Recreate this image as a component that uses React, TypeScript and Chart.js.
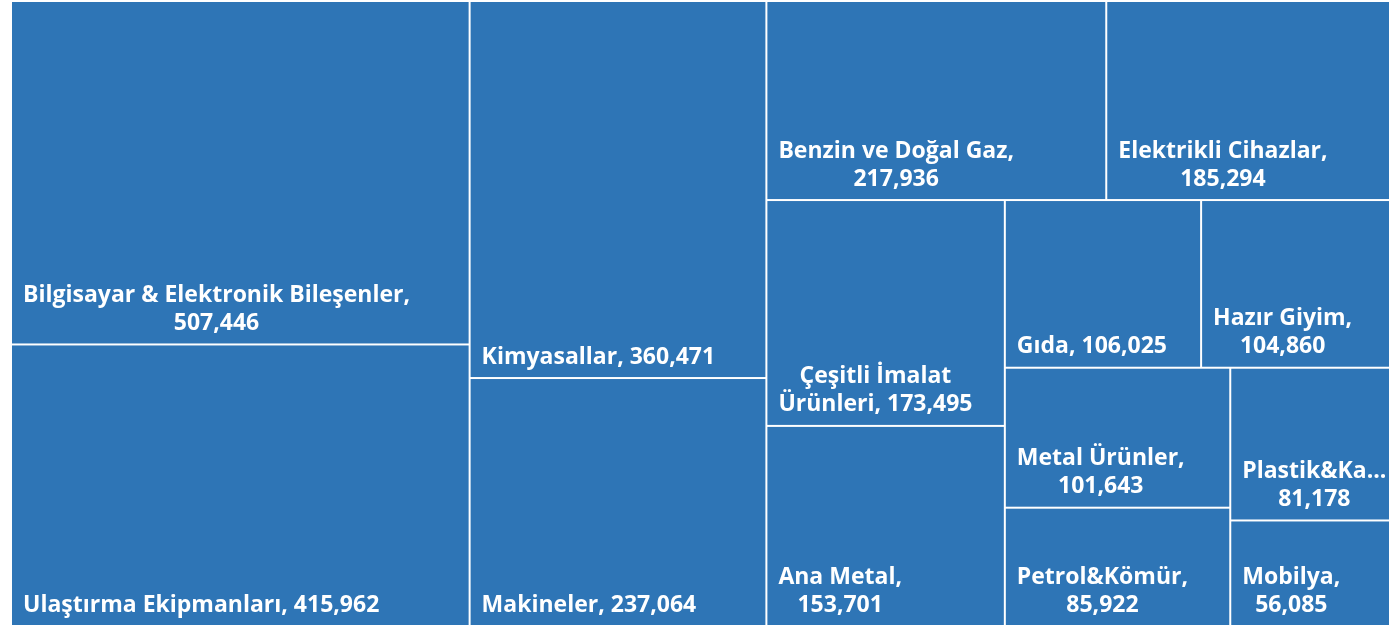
import { useEffect, useRef } from "react";
import { Chart, registerables } from "chart.js";

Chart.register(...registerables);

const categories = [
  "Bilgisayar & Elektronik Bileşenler",
  "Ulaştırma Ekipmanları",
  "Kimyasallar",
  "Makineler",
  "Benzin ve Doğal Gaz",
  "Elektrikli Cihazlar",
  "Çeşitli İmalat Ürünleri",
  "Ana Metal",
  "Gıda",
  "Hazır Giyim",
  "Metal Ürünler",
  "Petrol&Kömür",
  "Plastik&Kauçuk",
  "Mobilya",
];
const values = [
  507446, 415962, 360471, 237064, 217936, 185294, 173495, 153701, 106025, 104860, 101643, 85922, 81178,
  56085,
];

const DATA_W = 100;
const DATA_H = 50;
const X_VISIBLE = 99.55;
const FILL = "#2E75B6";
const FONT = "bold 23px 'Open Sans'";
const LINE_H = 28;
const PAD = 12;

type Rect = { x: number; y: number; w: number; h: number };

function sum(a: number[]) {
  return a.reduce((s, v) => s + v, 0);
}
function worst(row: number[], side: number) {
  const s = sum(row);
  const mx = Math.max(...row);
  const mn = Math.min(...row);
  return Math.max((side * side * mx) / (s * s), (s * s) / (side * side * mn));
}
function squarify(vals: number[], x0: number, y0: number, w0: number, h0: number): Rect[] {
  let x = x0, y = y0, w = w0, h = h0;
  const scale = (w * h) / sum(vals);
  const areas = vals.map((v) => v * scale);
  const rects: Rect[] = [];
  let i = 0;
  while (i < areas.length) {
    const side = Math.min(w, h);
    let row = [areas[i]];
    let j = i + 1;
    while (j < areas.length) {
      const next = [...row, areas[j]];
      if (worst(next, side) <= worst(row, side)) {
        row = next;
        j++;
      } else break;
    }
    const s = sum(row);
    if (w >= h) {
      const cw = s / h;
      let cy = y;
      for (const a of row) {
        const rh = a / cw;
        rects.push({ x, y: cy, w: cw, h: rh });
        cy += rh;
      }
      x += cw;
      w -= cw;
    } else {
      const rh = s / w;
      let cx = x;
      for (const a of row) {
        const rw = a / rh;
        rects.push({ x: cx, y, w: rw, h: rh });
        cx += rw;
      }
      y += rh;
      h -= rh;
    }
    i = j;
  }
  return rects;
}

function wrapText(ctx: CanvasRenderingContext2D, text: string, maxW: number, truncW: number): string[] {
  const words = text.split(" ");
  const lines: string[] = [];
  let cur = "";
  const fit = (word: string) => {
    if (ctx.measureText(word).width <= truncW) return word;
    let t = word;
    while (t.length > 1 && ctx.measureText(t + "...").width > truncW) t = t.slice(0, -1);
    return t + "...";
  };
  for (const w of words) {
    const cand = cur ? cur + " " + w : w;
    if (ctx.measureText(cand).width <= maxW) {
      cur = cand;
    } else {
      if (cur) lines.push(cur);
      cur = fit(w);
    }
  }
  if (cur) lines.push(cur);
  return lines;
}

const treemapPlugin = {
  id: "treemapCells",
  afterDatasetsDraw(chart: any) {
    const ctx: CanvasRenderingContext2D = chart.ctx;
    const xs = chart.scales.x;
    const ys = chart.scales.y;
    const pts = chart.data.datasets[0].data as any[];
    ctx.save();
    pts.forEach((p) => {
      const r: Rect = p.rect;
      const x0 = xs.getPixelForValue(r.x);
      const x1 = xs.getPixelForValue(r.x + r.w);
      const y0 = ys.getPixelForValue(r.y);
      const y1 = ys.getPixelForValue(r.y + r.h);
      ctx.fillStyle = FILL;
      ctx.fillRect(x0 + 1, y0 + 1, x1 - x0 - 2, y1 - y0 - 2);
    });
    ctx.font = FONT;
    ctx.fillStyle = "#ffffff";
    ctx.textAlign = "center";
    ctx.textBaseline = "middle";
    const right = chart.width;
    pts.forEach((p) => {
      const r: Rect = p.rect;
      const x0 = xs.getPixelForValue(r.x);
      const x1 = Math.min(xs.getPixelForValue(r.x + r.w), right);
      const y1 = ys.getPixelForValue(r.y + r.h);
      const label = `${p.name}, ${p.value.toLocaleString("en-US")}`;
      const cw = x1 - x0;
      const lines = wrapText(ctx, label, cw - PAD - 14, cw - PAD);
      const bw = Math.max(...lines.map((l) => ctx.measureText(l).width));
      const cx = x0 + PAD + bw / 2;
      lines.forEach((l, k) => {
        const cy = y1 - 21 - (lines.length - 1 - k) * LINE_H;
        ctx.fillText(l, cx, cy);
      });
    });
    ctx.restore();
  },
};

export default function App() {
  const ref = useRef<HTMLCanvasElement | null>(null);
  useEffect(() => {
    document.body.style.margin = "0";
    const rects = squarify(values, 0, 0, DATA_W, DATA_H);
    const data = rects.map((r, i) => ({
      x: r.x + r.w / 2,
      y: r.y + r.h / 2,
      rect: r,
      name: categories[i],
      value: values[i],
    }));
    const chart = new Chart(ref.current!, {
      type: "scatter",
      data: { datasets: [{ data, pointRadius: 0, pointHoverRadius: 0 } as any] },
      options: {
        animation: false,
        responsive: false,
        events: [],
        layout: { padding: { left: 11, top: 1, right: 0, bottom: 1 } },
        plugins: { legend: { display: false }, tooltip: { enabled: false } },
        scales: {
          x: { type: "linear", min: 0, max: X_VISIBLE, display: false },
          y: { type: "linear", min: 0, max: DATA_H, reverse: true, display: false },
        },
      },
      plugins: [treemapPlugin],
    });
    return () => chart.destroy();
  }, []);
  return <canvas ref={ref} width={1389} height={627} style={{ display: "block" }} />;
}
